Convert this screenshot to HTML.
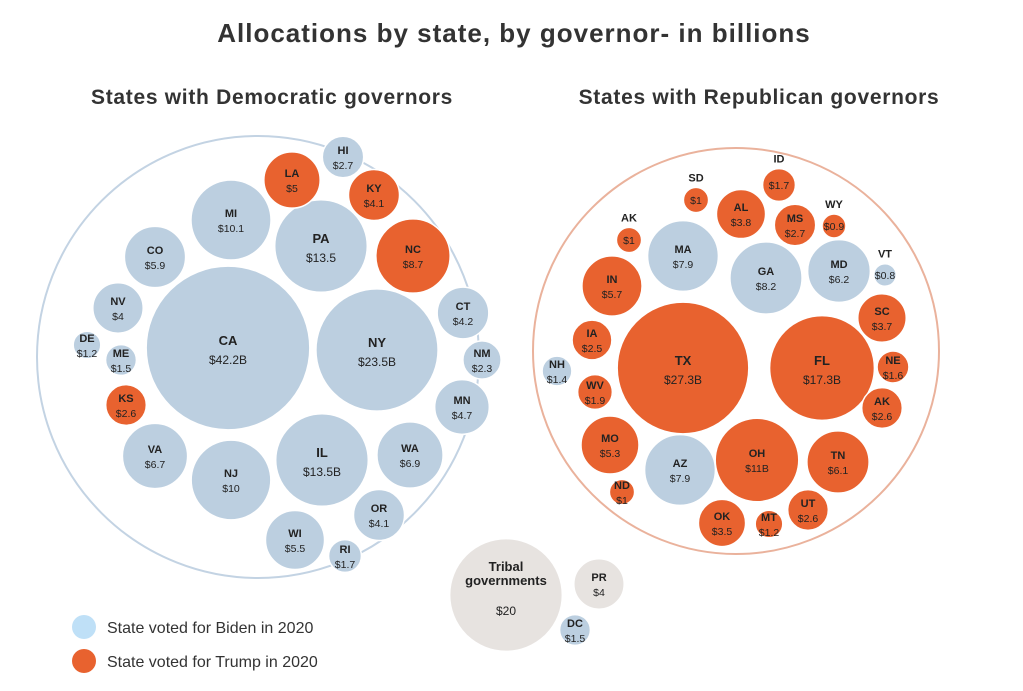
<!DOCTYPE html>
<html><head><meta charset="utf-8">
<style>
body{margin:0;background:#fff;font-family:"Liberation Sans",Arial,sans-serif;}
svg{display:block}
</style></head>
<body>
<svg id="chart" width="1023" height="691" viewBox="0 0 1023 691" xmlns="http://www.w3.org/2000/svg">
<text x="514" y="42" text-anchor="middle" font-size="26" font-weight="bold" letter-spacing="1" fill="#333">Allocations by state, by governor- in billions</text>
<text x="272" y="104" text-anchor="middle" font-size="21" font-weight="bold" letter-spacing="0.7" fill="#333">States with Democratic governors</text>
<text x="759" y="104" text-anchor="middle" font-size="21" font-weight="bold" letter-spacing="0.7" fill="#333">States with Republican governors</text>
<circle cx="258" cy="357" r="221" fill="none" stroke="#c3d3e3" stroke-width="2"/>
<circle cx="736" cy="351" r="203" fill="none" stroke="#eab29c" stroke-width="2"/>
<g id="bubbles"></g>
<g>
<circle cx="84" cy="627" r="12" fill="#bfe0f7"/>
<text x="107" y="633" font-size="16" fill="#333">State voted for Biden in 2020</text>
<circle cx="84" cy="661" r="12" fill="#e8622f"/>
<text x="107" y="667" font-size="16" fill="#333">State voted for Trump in 2020</text>
</g>
</svg>
<script>
const states=["CA","NY","PA","IL","MI","NJ","NC","VA","WA","CO","WI","LA","MN","CT","KY","OR","NV","NM","HI","KS","RI","ME","DE",
"TX","FL","OH","GA","MA","AZ","MD","TN","IN","MO","AL","SC","OK","MS","UT","AK","IA","WV","ID","NE","NH","MT","AK","SD","ND","WY","VT",
"Tribal governments","PR","DC"];
const values=[42.2,23.5,13.5,13.5,10.1,10,8.7,6.7,6.9,5.9,5.5,5,4.7,4.2,4.1,4.1,4,2.3,2.7,2.6,1.7,1.5,1.2,
27.3,17.3,11,8.2,7.9,7.9,6.2,6.1,5.7,5.3,3.8,3.7,3.5,2.7,2.6,2.6,2.5,1.9,1.7,1.6,1.4,1.2,1,1,1,0.9,0.8,
20,4,1.5];
const valueLabels=["$42.2B","$23.5B","$13.5","$13.5B","$10.1","$10","$8.7","$6.7","$6.9","$5.9","$5.5","$5","$4.7","$4.2","$4.1","$4.1","$4","$2.3","$2.7","$2.6","$1.7","$1.5","$1.2",
"$27.3B","$17.3B","$11B","$8.2","$7.9","$7.9","$6.2","$6.1","$5.7","$5.3","$3.8","$3.7","$3.5","$2.7","$2.6","$2.6","$2.5","$1.9","$1.7","$1.6","$1.4","$1.2","$1","$1","$1","$0.9","$0.8",
"$20","$4","$1.5"];
const vote=["D","D","D","D","D","D","R","D","D","D","D","R","D","D","R","D","D","D","D","R","D","D","D",
"R","R","R","D","D","D","D","R","R","R","R","R","R","R","R","R","R","R","R","R","D","R","R","R","R","R","D",
"O","O","D"];
// layout (packing positions), not data
const layoutX=[228,377,321,322,231,231,413,155,410,155,295,292,462,463,374,379,118,482,343,126,345,121,87,
683,822,757,766,683,680,839,838,612,610,741,882,722,795,808,882,592,595,779,893,557,769,629,696,622,834,885,
506,599,575];
const layoutY=[348,350,246,460,220,480,256,456,455,257,540,180,407,313,195,515,308,360,157,405,556,360,345,
368,368,460,278,256,470,271,462,286,445,214,318,523,225,510,408,340,392,185,367,371,524,240,200,492,226,275,
595,584,630];
const labelAbove=["AK","SD","WY","VT","ID"];
const rScale=v=>12.6*Math.sqrt(v);
const fills={D:"#bccfe0",R:"#e8622f",O:"#e7e3e0"};
const g=document.getElementById('bubbles');
const NS="http://www.w3.org/2000/svg";
states.forEach((s,i)=>{
  const r=rScale(values[i]);
  const c=document.createElementNS(NS,'circle');
  
  
  c.setAttribute('cx',layoutX[i]);c.setAttribute('cy',layoutY[i]);c.setAttribute('r',r);
  c.setAttribute('fill',fills[vote[i]]);
  c.setAttribute('stroke','#fff');c.setAttribute('stroke-width','1.5');
  g.appendChild(c);
  const above=labelAbove.includes(s)&&values[i]<=1.7;
  const big=values[i]>=13;
  const fs=big?13:11;
  const t=document.createElementNS(NS,'text');
  
  
  t.setAttribute('text-anchor','middle');t.setAttribute('font-size',fs);
  t.setAttribute('font-weight','bold');t.setAttribute('fill','#222');
  if(s==="Tribal governments"){
    t.setAttribute('x',layoutX[i]);t.setAttribute('y',layoutY[i]-24);
    t.innerHTML='<tspan x="'+layoutX[i]+'">Tribal</tspan><tspan x="'+layoutX[i]+'" dy="14">governments</tspan>';
  } else {
    t.setAttribute('x',layoutX[i]);
    t.setAttribute('y',above?layoutY[i]-r-6:layoutY[i]-3);
    t.textContent=s;
  }
  g.appendChild(t);
  const v=document.createElementNS(NS,'text');
  
  
  v.setAttribute('text-anchor','middle');v.setAttribute('font-size',big?12:10.5);
  v.setAttribute('fill','#222');
  v.setAttribute('x',layoutX[i]);
  v.setAttribute('y',s==="Tribal governments"?layoutY[i]+20:(above?layoutY[i]+4:layoutY[i]+(big?16:12)));
  v.textContent=valueLabels[i];
  g.appendChild(v);
});
</script>
</body></html>
